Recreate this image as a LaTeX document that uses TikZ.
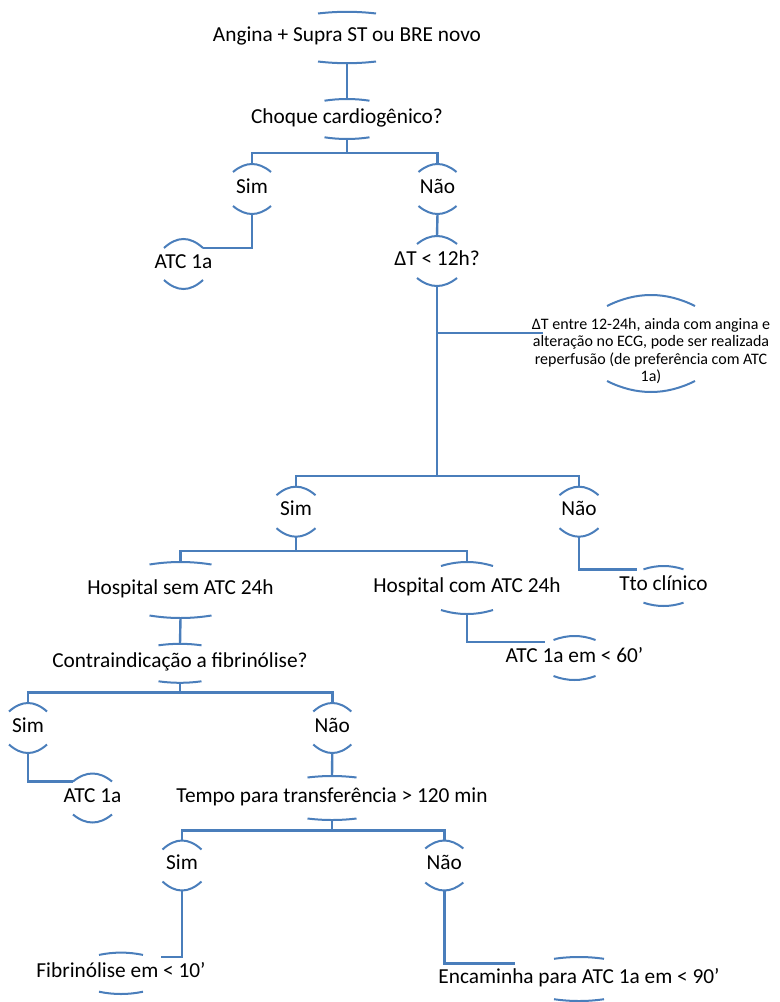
\documentclass[tikz,border=0pt]{standalone}
\usepackage{fontspec}
\setmainfont{Carlito}
\usetikzlibrary{calc}
\definecolor{ln}{HTML}{4A7EBB}
\tikzset{
  txt/.style={inner sep=0pt, font=\fontsize{16}{19}\selectfont, text height=0.644em, text depth=0pt},
  note/.style={inner sep=0pt, font=\fontsize{12}{13.1}\selectfont, align=center},
  conn/.style={draw=ln, line width=1.8pt},
  arcl/.style={draw=ln, line width=1.5pt},
}
\newcommand\barcs[5][0]{%
  \coordinate (#2-c) at ($(#2.center)+(0,#1)$);
  \coordinate (#2-t) at ($(#2-c)+(0,-#4)$);
  \coordinate (#2-b) at ($(#2-c)+(0,#4)$);
  \coordinate (#2-tl) at ($(#2-c)+(-#3,-#4+#5)$);
  \coordinate (#2-tr) at ($(#2-c)+(#3,-#4+#5)$);
  \draw[arcl] (#2-tl) .. controls ($(#2-c)+(-#3/3,-#4-#5/3)$) and ($(#2-c)+(#3/3,-#4-#5/3)$) .. (#2-tr);
  \draw[arcl] ($(#2-c)+(-#3,#4-#5)$) .. controls ($(#2-c)+(-#3/3,#4+#5/3)$) and ($(#2-c)+(#3/3,#4+#5/3)$) .. ($(#2-c)+(#3,#4-#5)$);
}
\begin{document}
\begin{tikzpicture}[x=0.75pt,y=-0.75pt]
\useasboundingbox (0,0) rectangle (779,1002);
% nodes
\node[txt] (n1) at (347,37.5) {Angina + Supra ST ou BRE novo}; \barcs{n1}{29}{25.7}{1.7}
\node[txt] (n2) at (347,119) {Choque cardiogênico?}; \barcs{n2}{22.5}{20}{1.7}
\node[txt] (n3) at (252,189) {Sim}; \barcs{n3}{19}{25}{8}
\node[txt] (n4) at (437.5,189) {Não}; \barcs{n4}{19}{25}{8}
\node[txt] (n5) at (183.5,264) {ATC 1a}; \barcs{n5}{19.5}{25}{9}
\node[txt] (n6) at (437,261) {ΔT < 12h?}; \barcs{n6}{20}{25}{8}
\node[note] (n7) at (651,351) {ΔT entre 12-24h, ainda com angina e\\alteração no ECG, pode ser realizada\\reperfusão (de preferência com ATC\\1a)};
\barcs[-7.5]{n7}{44}{48.5}{11}
\coordinate (n7-w) at ($(n7.center)+(-108,-18)$);
\node[txt] (n8) at (296,511.7) {Sim}; \barcs{n8}{19.5}{25}{8.5}
\node[txt] (n9) at (579,511.7) {Não}; \barcs{n9}{19.5}{25}{8.5}
\node[txt] (n10) at (180.5,590) {Hospital sem ATC 24h}; \barcs{n10}{31}{28}{2.5}
\node[txt] (n11) at (467,588) {Hospital com ATC 24h}; \barcs{n11}{26}{26}{4}
\node[txt] (n12) at (663.5,586) {Tto clínico}; \barcs{n12}{20}{20}{3.3}
\coordinate (n12-w) at ($(n12.center)+(-26.5,-16.7)$);
\node[txt] (n13) at (574.5,658) {ATC 1a em < 60'}; \barcs{n13}{21}{22}{4}
\coordinate (n13-w) at ($(n13.center)+(-29.5,-16.3)$);
\node[txt] (n14) at (180,663.3) {Contraindicação a fibrinólise?}; \barcs{n14}{21.5}{19.5}{1.5}
\node[txt] (n15) at (28,728) {Sim}; \barcs{n15}{19}{25}{8.5}
\node[txt] (n16) at (332.3,728) {Não}; \barcs{n16}{19}{25}{8.5}
\node[txt] (n17) at (92.5,798) {ATC 1a}; \barcs{n17}{19.5}{24.5}{8}
\node[txt] (n18) at (332,798) {Tempo para transferência > 120 min}; \barcs{n18}{24.5}{22}{1.5}
\node[txt] (n19) at (182,865.5) {Sim}; \barcs{n19}{19.5}{25}{9}
\node[txt] (n20) at (444.3,865.5) {Não}; \barcs{n20}{19}{25}{8}
\node[txt] (n21) at (121,973.3) {Fibrinólise em < 10'}; \barcs{n21}{22}{20.7}{2.3}
\coordinate (n21-e) at ($(n21.center)+(40,-16.6)$);
\node[txt] (n22) at (579,979) {Encaminha para ATC 1a em < 90'}; \barcs{n22}{25}{22}{1.8}
\coordinate (n22-w) at ($(n22.center)+(-64,-15.7)$);
% connectors
\draw[conn] (n1-b) -- (n2-t);
\draw[conn] (n2-b) -- ++(0,14) coordinate (j1) -| (n3-t);
\draw[conn] (j1) -| (n4-t);
\draw[conn] (n3-b) |- (n5-tr);
\draw[conn] (n4-b) -- (n6-t);
\draw[conn] (n6-b) |- (n7-w);
\draw[conn] (n6-b) -- ++(0,189.7) coordinate (j2) -| (n8-t);
\draw[conn] (j2) -| (n9-t);
\draw[conn] (n8-b) -- ++(0,14) coordinate (j3) -| (n10-t);
\draw[conn] (j3) -| (n11-t);
\draw[conn] (n9-b) |- (n12-w);
\draw[conn] (n10-b) -- (n14-t);
\draw[conn] (n11-b) |- (n13-w);
\draw[conn] (n14-b) -- ++(0,9.5) coordinate (j4) -| (n15-t);
\draw[conn] (j4) -| (n16-t);
\draw[conn] (n15-b) |- (n17-tl);
\draw[conn] (n16-b) -- (n18-t);
\draw[conn] (n18-b) -- ++(0,10.5) coordinate (j5) -| (n19-t);
\draw[conn] (j5) -| (n20-t);
\draw[conn] (n19-b) |- (n21-e);
\draw[conn] (n20-b) |- (n22-w);
\end{tikzpicture}
\end{document}
